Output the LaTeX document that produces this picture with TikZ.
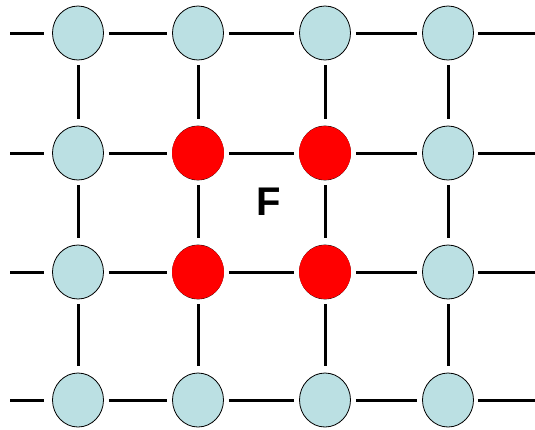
\documentclass[tikz,border=0pt]{standalone}
\usepackage{fontspec}
\setmainfont{Liberation Sans}
\usetikzlibrary{shapes.geometric}
\definecolor{nodecyan}{HTML}{BBE0E3}
\begin{document}
\begin{tikzpicture}[x=1pt,y=-1pt,
  site/.style={ellipse,draw=black,line width=0.8pt,fill=nodecyan,minimum width=51pt,minimum height=54pt,inner sep=0pt},
  faulty/.style={ellipse,fill=red,minimum width=52pt,minimum height=54pt,inner sep=0pt},
  link/.style={line width=3pt,shorten <=5pt,shorten >=5pt}]
\useasboundingbox (0,0) rectangle (535,429);
\foreach \c/\x in {1/78,2/198,3/325,4/448}{
  \foreach \r/\y in {1/33,2/153,3/272,4/400}{
    \node[site] (n\c\r) at (\x,\y) {};
  }
}
\foreach \c/\r/\x/\y in {2/2/198/153,3/2/325/153,2/3/198/272,3/3/325/272}{
  \node[faulty] (n\c\r) at (\x,\y) {};
}
\foreach \r/\y in {1/33,2/153,3/272,4/400}{
  \coordinate (L\r) at (10,\y);
  \coordinate (R\r) at (535,\y);
  \draw[line width=3pt,shorten >=8pt] (L\r) -- (n1\r);
  \draw[line width=3pt,shorten <=4pt] (n4\r) -- (R\r);
  \draw[link] (n1\r) -- (n2\r);
  \draw[link] (n2\r) -- (n3\r);
  \draw[link] (n3\r) -- (n4\r);
}
\foreach \c in {1,2,3,4}{
  \draw[link,shorten >=7pt] (n\c1) -- (n\c2);
  \draw[link,shorten >=7pt] (n\c2) -- (n\c3);
  \draw[link,shorten >=7pt] (n\c3) -- (n\c4);
}
\node[font=\fontsize{40}{40}\selectfont\bfseries,inner sep=0pt] (flabel) at (269,202) {F};
\end{tikzpicture}
\end{document}
